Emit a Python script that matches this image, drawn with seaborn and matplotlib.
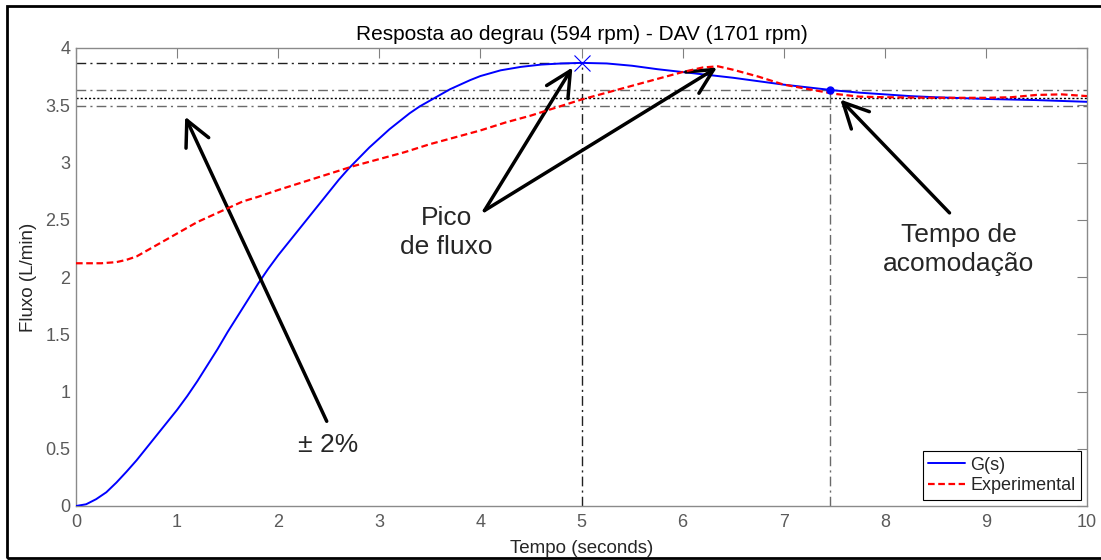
import numpy as np
import pandas as pd
import matplotlib
matplotlib.use("Agg")
import matplotlib.pyplot as plt
import seaborn as sns
from matplotlib.patches import Rectangle

# ---------------- data ----------------
t_model = [0.0, 0.1, 0.2, 0.3, 0.4, 0.5, 0.6, 0.7, 0.8, 0.9, 1.0, 1.1, 1.2, 1.3,
           1.4, 1.5, 1.6, 1.7, 1.8, 1.9, 2.0, 2.1, 2.2, 2.3, 2.4, 2.5, 2.6, 2.7,
           2.8, 2.9, 3.0, 3.1, 3.2, 3.3, 3.4, 3.5, 3.6, 3.7, 3.8, 3.9, 4.0, 4.2,
           4.4, 4.6, 4.8, 5.0, 5.25, 5.5, 5.75, 6.0, 6.25, 6.5, 6.75, 7.0, 7.25,
           7.5, 7.75, 8.0, 8.25, 8.5, 9.0, 9.5, 10.0]
y_model = [0.0, 0.015, 0.06, 0.12, 0.205, 0.30, 0.40, 0.51, 0.62, 0.73, 0.84, 0.96,
           1.09, 1.23, 1.37, 1.52, 1.66, 1.80, 1.94, 2.07, 2.19, 2.30, 2.41, 2.52,
           2.63, 2.74, 2.85, 2.95, 3.04, 3.13, 3.21, 3.29, 3.36, 3.43, 3.49, 3.54,
           3.59, 3.64, 3.68, 3.72, 3.755, 3.805, 3.835, 3.855, 3.865, 3.87, 3.865,
           3.845, 3.815, 3.79, 3.765, 3.74, 3.71, 3.68, 3.655, 3.63, 3.61, 3.595,
           3.58, 3.57, 3.555, 3.545, 3.53]

t_exp = [0.0, 0.25, 0.4, 0.5, 0.6, 0.7, 0.8, 0.9, 1.0, 1.1, 1.2, 1.3, 1.4, 1.5,
         1.65, 1.8, 2.0, 2.25, 2.5, 2.75, 3.0, 3.25, 3.5, 3.75, 4.0, 4.25, 4.5,
         4.75, 5.0, 5.25, 5.5, 5.75, 6.0, 6.2, 6.35, 6.5, 6.75, 7.0, 7.25, 7.5,
         7.75, 8.0, 8.5, 9.0, 9.25, 9.5, 9.75, 10.0]
y_exp = [2.12, 2.12, 2.13, 2.15, 2.18, 2.23, 2.28, 2.33, 2.38, 2.43, 2.48, 2.52,
         2.56, 2.60, 2.66, 2.70, 2.76, 2.83, 2.90, 2.97, 3.03, 3.09, 3.16, 3.22,
         3.28, 3.35, 3.41, 3.48, 3.55, 3.61, 3.67, 3.73, 3.79, 3.83, 3.84, 3.81,
         3.75, 3.68, 3.64, 3.60, 3.575, 3.57, 3.565, 3.565, 3.57, 3.59, 3.595, 3.58]

peak_time = 5.0
peak_value = 3.87
settle_time = 7.46
final_value = 3.56
band_hi = 3.63
band_lo = 3.49

x_ticks = [0, 1, 2, 3, 4, 5, 6, 7, 8, 9, 10]
y_ticks = [0, 0.5, 1, 1.5, 2, 2.5, 3, 3.5, 4]
y_tick_labels = ["0", "0.5", "1", "1.5", "2", "2.5", "3", "3.5", "4"]

title = "Resposta ao degrau (594 rpm) - DAV (1701 rpm)"
xlabel = "Tempo (seconds)"
ylabel = "Fluxo (L/min)"

# ---------------- style ----------------
sns.set_style("white")
plt.rcParams["font.family"] = ["Liberation Sans", "DejaVu Sans"]

W, H = 1101, 560
fig = plt.figure(figsize=(W / 100, H / 100), dpi=100)
ax = fig.add_axes([76 / W, 1 - 506 / H, (1087 - 76) / W, (506 - 48) / H])

df_model = pd.DataFrame({"t": t_model, "y": y_model})
df_exp = pd.DataFrame({"t": t_exp, "y": y_exp})

# reference lines
gray = "#6a6a6a"
dashdot = (0, (7, 3, 1.5, 3))
ax.plot([0, peak_time], [peak_value, peak_value], color="#202020", lw=1.0, linestyle=dashdot, zorder=1)
ax.plot([peak_time, peak_time], [0, peak_value], color="#202020", lw=1.0, linestyle=dashdot, zorder=1)
ax.plot([0, 10], [band_hi, band_hi], color=gray, lw=1.0, linestyle=dashdot, zorder=1)
ax.plot([0, 10], [band_lo, band_lo], color=gray, lw=1.0, linestyle=dashdot, zorder=1)
ax.plot([0, 10], [final_value, final_value], color="black", lw=1.0, linestyle=(0, (1.5, 1.5)), zorder=1)
ax.plot([settle_time, settle_time], [0, band_hi], color=gray, lw=1.0, linestyle=dashdot, zorder=1)

sns.lineplot(data=df_model, x="t", y="y", ax=ax, color="blue", lw=1.4,
             label="G(s)", zorder=3)
sns.lineplot(data=df_exp, x="t", y="y", ax=ax, color="red", lw=1.6,
             linestyle=(0, (3, 1.6)), label="Experimental", zorder=4)

# markers
ax.plot([peak_time], [peak_value], marker="x", color="blue", markersize=11, mew=0.8, zorder=5)
ax.plot([settle_time], [band_hi], marker="o", color="blue", markersize=5, zorder=5)

# axes
ax.set_xlim(0, 10)
ax.set_ylim(0, 4)
ax.set_xticks(x_ticks)
ax.set_yticks(y_ticks)
ax.set_yticklabels(y_tick_labels)
tick_col = "#5a5a5a"
ax.tick_params(axis="both", direction="in", length=7, width=0.8, color="#808080",
               labelcolor=tick_col, labelsize=13, top=True, right=True)
ax.tick_params(axis="x", pad=6)
ax.tick_params(axis="y", pad=4)
for s in ax.spines.values():
    s.set_color("#8a8a8a")
    s.set_linewidth(1.0)
ax.set_title(title, fontsize=15, pad=6, color="black")
ax.set_xlabel(xlabel, fontsize=13.5, labelpad=6)
ax.set_ylabel(ylabel, fontsize=13.5, labelpad=6)

leg = ax.legend(loc="lower right", fontsize=13, frameon=True, fancybox=False,
                edgecolor="black", framealpha=1, handlelength=2.0,
                borderaxespad=0.35, borderpad=0.3, labelspacing=0.2, handletextpad=0.3)
leg.get_frame().set_linewidth(0.8)

# annotations
arrow_kw = dict(arrowstyle="->,head_length=0.9,head_width=0.45", lw=2.5, color="black",
                mutation_scale=20, shrinkA=0, shrinkB=0)
ax.annotate("", xy=(1.08, 3.40), xytext=(2.48, 0.74), arrowprops=arrow_kw)
ax.text(2.49, 0.53, "± 2%", fontsize=19, ha="center", va="center")

ax.annotate("", xy=(4.91, 3.83), xytext=(4.04, 2.58), arrowprops=arrow_kw)
ax.annotate("", xy=(6.34, 3.83), xytext=(4.04, 2.58), arrowprops=arrow_kw)
ax.text(3.66, 2.39, "Pico\nde fluxo", fontsize=19, ha="center", va="center", linespacing=1.25)

ax.annotate("", xy=(7.56, 3.55), xytext=(8.64, 2.56), arrowprops=arrow_kw)
ax.text(8.73, 2.24, "Tempo de\nacomodação", fontsize=19, ha="center", va="center", linespacing=1.25)

# figure frame
fig.add_artist(Rectangle((7 / W, 2 / H), (W + 10) / W, (H - 8) / H, fill=False,
                         edgecolor="black", lw=2, transform=fig.transFigure, clip_on=False))

fig.savefig("out.png", dpi=100)
